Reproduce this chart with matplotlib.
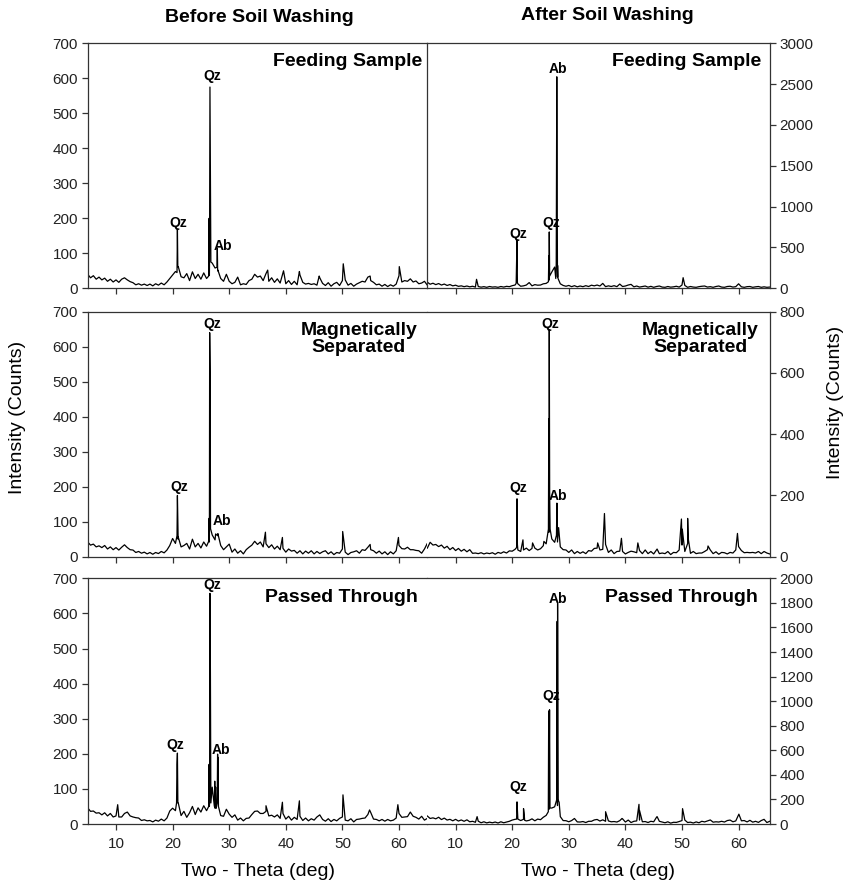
import numpy as np
import matplotlib
matplotlib.use('Agg')
import matplotlib.pyplot as plt

plt.rcParams['font.family'] = ['Liberation Sans', 'DejaVu Sans']

# background readings every 0.5 deg, 5.0 ... 65.5
two_theta = np.arange(5, 65.51, 0.5)

# --- Feeding sample, before washing
bg_feed_before = [40, 30, 36, 26, 32, 24, 29, 20, 26, 18, 24, 17, 26, 30, 24, 19, 16, 10, 13, 9,
                  12, 8, 12, 7, 13, 9, 15, 10, 18, 28, 38, 48, 62, 33, 30, 42, 22, 47, 28, 40,
                  26, 44, 28, 37, 72, 58, 52, 28, 20, 40, 20, 13, 17, 32, 10, 13, 11, 22, 26, 40,
                  32, 35, 22, 42, 20, 30, 17, 27, 15, 44, 13, 22, 11, 20, 10, 38, 17, 12, 14, 11,
                  13, 9, 30, 14, 8, 16, 6, 13, 17, 8, 22, 24, 9, 14, 6, 12, 16, 20, 18, 32,
                  22, 17, 10, 12, 6, 11, 5, 10, 6, 12, 36, 18, 22, 20, 27, 18, 21, 13, 15, 20,
                  9, 12]
pk_feed_before_x = [20.78, 20.85, 20.92, 26.38, 26.45, 26.52, 26.6, 26.68, 26.76,
                    27.84, 27.9, 27.96, 36.8, 39.6, 42.4, 45.9, 50.15, 54.9, 60.05]
pk_feed_before_y = [45, 168, 62, 35, 200, 70, 575, 340, 75,
                    60, 115, 50, 52, 50, 48, 35, 70, 35, 62]

# --- Feeding sample, after washing
bg_feed_after = [75, 50, 62, 45, 58, 40, 52, 35, 46, 30, 38, 24, 30, 20, 28, 18, 25, 15, 22, 14,
                 20, 12, 22, 15, 18, 12, 22, 15, 24, 20, 32, 40, 55, 25, 30, 40, 70, 30, 45, 38,
                 40, 55, 60, 100, 200, 260, 140, 55, 35, 25, 35, 20, 32, 18, 28, 20, 32, 22, 38, 30,
                 40, 28, 60, 20, 30, 22, 32, 20, 52, 22, 28, 40, 48, 18, 28, 15, 22, 28, 14, 24,
                 12, 22, 28, 15, 12, 22, 14, 18, 25, 15, 40, 35, 12, 22, 15, 12, 20, 25, 28, 15,
                 20, 12, 22, 28, 15, 12, 22, 25, 15, 20, 55, 18, 12, 20, 22, 12, 18, 22, 12, 18,
                 12, 15]
pk_feed_after_x = [13.7, 20.7, 20.78, 20.85, 20.92, 26.4, 26.47, 26.55, 26.62,
                   27.7, 27.78, 27.88, 27.95, 28.02, 28.1, 50.2]
pk_feed_after_y = [110, 60, 330, 590, 70, 80, 400, 690, 150,
                   120, 300, 2590, 1220, 280, 120, 130]

# --- Magnetically separated, before washing
bg_mag_before = [42, 33, 36, 28, 31, 26, 32, 22, 28, 20, 26, 19, 27, 34, 26, 20, 19, 12, 15, 10,
                 13, 8, 12, 7, 12, 9, 15, 11, 19, 32, 52, 38, 56, 28, 32, 38, 22, 50, 28, 38,
                 25, 42, 30, 42, 62, 48, 66, 32, 20, 28, 36, 13, 22, 10, 17, 8, 20, 27, 33, 44,
                 35, 42, 28, 37, 26, 34, 22, 30, 20, 24, 13, 22, 16, 18, 10, 17, 8, 16, 10, 17,
                 8, 15, 9, 14, 17, 8, 14, 6, 12, 10, 22, 13, 6, 12, 14, 17, 10, 20, 18, 27,
                 20, 17, 10, 16, 8, 14, 6, 14, 8, 17, 32, 23, 22, 27, 20, 20, 18, 17, 10, 22,
                 38, 42]
pk_mag_before_x = [20.78, 20.85, 20.92, 20.98, 26.4, 26.47, 26.55, 26.63, 26.7,
                   27.6, 27.95, 36.4, 39.4, 50.05, 54.9, 59.9]
pk_mag_before_y = [60, 175, 100, 50, 45, 110, 640, 530, 80,
                   65, 60, 70, 55, 72, 35, 55]

# --- Magnetically separated, after washing
bg_mag_after = [28, 47, 38, 40, 33, 38, 28, 34, 23, 30, 20, 27, 18, 24, 16, 23, 11, 12, 10, 13,
                9, 12, 10, 13, 8, 14, 11, 16, 12, 19, 18, 24, 22, 17, 22, 28, 20, 27, 28, 22,
                26, 36, 42, 80, 58, 47, 48, 32, 23, 22, 14, 22, 10, 17, 11, 16, 10, 20, 18, 27,
                28, 22, 24, 40, 14, 22, 10, 17, 18, 17, 9, 14, 18, 16, 13, 20, 10, 22, 10, 17,
                9, 22, 10, 12, 10, 17, 7, 14, 13, 22, 38, 17, 43, 11, 17, 10, 12, 12, 17, 23,
                22, 10, 16, 8, 14, 13, 9, 14, 12, 22, 33, 20, 13, 14, 13, 14, 12, 17, 10, 17,
                12, 9]
pk_mag_after_x = [20.78, 20.85, 20.92, 21.9, 23.6, 25.6, 26.4, 26.47, 26.55, 26.62, 26.7,
                  27.82, 27.9, 27.98, 28.2, 35.1, 36.3, 39.3, 42.2, 45.6,
                  49.9, 50.05, 51.0, 51.1, 54.6, 59.8]
pk_mag_after_y = [30, 189, 40, 55, 45, 50, 90, 450, 741, 200, 90,
                  70, 175, 60, 95, 45, 141, 60, 45, 25,
                  123, 90, 125, 60, 35, 76]

# --- Passed through, before washing
bg_pass_before = [46, 36, 37, 31, 32, 26, 32, 23, 30, 20, 23, 20, 20, 30, 34, 23, 20, 18, 17, 10,
                  12, 9, 10, 6, 11, 8, 14, 9, 17, 37, 45, 38, 60, 24, 36, 19, 32, 50, 27, 46,
                  34, 52, 38, 50, 105, 45, 62, 24, 22, 42, 28, 19, 26, 11, 17, 9, 16, 17, 27, 36,
                  37, 30, 30, 36, 23, 25, 20, 26, 16, 30, 14, 22, 11, 19, 13, 22, 10, 17, 9, 15,
                  11, 20, 26, 13, 8, 15, 7, 13, 9, 16, 20, 11, 9, 15, 6, 13, 14, 16, 17, 27,
                  33, 14, 13, 9, 13, 8, 13, 9, 11, 17, 30, 19, 20, 21, 34, 22, 19, 14, 22, 11,
                  16, 14]
pk_pass_before_x = [10.3, 20.7, 20.77, 20.85, 20.93, 26.38, 26.45, 26.53, 26.6, 26.68, 26.76,
                    27.38, 27.45, 27.52, 27.6, 27.7, 27.88, 27.95, 28.02, 28.1,
                    36.5, 39.4, 42.4, 50.1, 54.8, 59.8]
pk_pass_before_y = [55, 60, 170, 202, 60, 50, 170, 60, 657, 430, 60,
                    50, 122, 80, 105, 45, 60, 199, 190, 50,
                    52, 62, 66, 83, 40, 55]

# --- Passed through, after washing
bg_pass_after = [65, 45, 50, 42, 55, 36, 48, 32, 38, 26, 38, 24, 33, 22, 34, 18, 22, 14, 23, 10,
                 18, 9, 15, 10, 16, 8, 18, 10, 16, 22, 32, 38, 55, 28, 38, 25, 30, 42, 26, 40,
                 35, 55, 70, 120, 130, 140, 150, 60, 28, 27, 18, 28, 45, 17, 16, 20, 12, 22, 22, 33,
                 37, 24, 34, 22, 25, 18, 20, 16, 27, 42, 16, 32, 12, 22, 25, 32, 18, 20, 12, 22,
                 18, 55, 22, 16, 10, 18, 7, 14, 13, 20, 28, 32, 12, 15, 8, 17, 10, 22, 17, 25,
                 33, 15, 18, 16, 22, 16, 28, 32, 18, 25, 75, 26, 28, 17, 30, 15, 22, 13, 28, 38,
                 12, 22]
pk_pass_after_x = [13.8, 20.78, 20.85, 20.92, 21.0, 22.0, 22.1, 22.2,
                   26.38, 26.45, 26.52, 26.6, 26.68, 27.88, 27.95, 28.02, 28.1, 28.3,
                   36.5, 39.4, 42.4, 42.5, 45.6, 50.1, 60.05]
pk_pass_after_y = [60, 40, 180, 120, 40, 125, 90, 30,
                   100, 920, 300, 930, 130, 200, 1650, 1800, 200, 175,
                   100, 45, 160, 110, 60, 125, 80]


def pattern(bg, pkx, pky):
    x = np.concatenate([two_theta, pkx])
    y = np.concatenate([bg, pky])
    order = np.argsort(x, kind='stable')
    return x[order], y[order]


W, H = 849, 885
fig = plt.figure(figsize=(W / 100, H / 100), dpi=100)


def box(x0, y0, x1, y1):
    return [x0 / W, 1 - y1 / H, (x1 - x0) / W, (y1 - y0) / H]


def ftext(x, y, s, **kw):
    fig.text(x / W, 1 - y / H, s, **kw)


rows = [(43.3, 288.3), (311.7, 556.7), (578.3, 824.0)]
right_lims = [(3000, 500), (800, 200), (2000, 200)]
data = [
    (pattern(bg_feed_before, pk_feed_before_x, pk_feed_before_y),
     pattern(bg_feed_after, pk_feed_after_x, pk_feed_after_y)),
    (pattern(bg_mag_before, pk_mag_before_x, pk_mag_before_y),
     pattern(bg_mag_after, pk_mag_after_x, pk_mag_after_y)),
    (pattern(bg_pass_before, pk_pass_before_x, pk_pass_before_y),
     pattern(bg_pass_after, pk_pass_after_x, pk_pass_after_y)),
]

frame = '#333333'
for i, (top, bot) in enumerate(rows):
    axl = fig.add_axes(box(87.7, top, 427.3, bot))
    axr = fig.add_axes(box(427.3, top, 770.0, bot))
    (xl, yl), (xr, yr) = data[i]
    axl.plot(xl, yl, color='black', lw=0.9)
    axr.plot(xr, yr, color='black', lw=0.9)

    axl.set_xlim(5, 65)
    axl.set_ylim(0, 700)
    axl.set_yticks(np.arange(0, 701, 100))
    axr.set_xlim(5, 65.55)
    ymax, step = right_lims[i]
    axr.set_ylim(0, ymax)
    axr.set_yticks(np.arange(0, ymax + 1, step))
    axr.yaxis.tick_right()

    for ax in (axl, axr):
        ax.set_xticks(np.arange(10, 61, 10))
        ax.tick_params(direction='out', length=4, width=0.9, color=frame,
                       labelsize=11, labelcolor='#222222', pad=3)
        ax.tick_params(axis='x', pad=5)
        for sp in ax.spines.values():
            sp.set_color(frame)
            sp.set_linewidth(0.9)
        if i < 2:
            ax.set_xticklabels([])
    axl.spines['right'].set_visible(False)
    if i > 0:
        axr.spines['left'].set_visible(False)
    axr.tick_params(axis='y', left=False)

bold = dict(fontsize=14, fontweight='bold', color='black')
small = dict(fontsize=10, fontweight='bold', color='black', ha='center', va='center')

ftext(259, 17, 'Before Soil Washing', ha='center', va='center', **bold)
ftext(607, 15, 'After Soil Washing', ha='center', va='center', **bold)

ftext(422, 61, 'Feeding Sample', ha='right', va='center', **bold)
ftext(761, 61, 'Feeding Sample', ha='right', va='center', **bold)
ftext(359, 339, 'Magnetically\nSeparated', ha='center', va='center', linespacing=1.0, **bold)
ftext(700, 339, 'Magnetically\nSeparated', ha='center', va='center', linespacing=1.0, **bold)
ftext(418, 597, 'Passed Through', ha='right', va='center', **bold)
ftext(758, 597, 'Passed Through', ha='right', va='center', **bold)

# peak labels
peak_labels = [
    (212, 76, 'Qz'), (178, 223, 'Qz'), (223, 246, 'Ab'),
    (558, 69, 'Ab'), (518, 234, 'Qz'), (551, 223, 'Qz'),
    (212, 324, 'Qz'), (179, 487, 'Qz'), (222, 521, 'Ab'),
    (550, 324, 'Qz'), (518, 488, 'Qz'), (558, 496, 'Ab'),
    (212, 585, 'Qz'), (175, 745, 'Qz'), (221, 750, 'Ab'),
    (558, 599, 'Ab'), (551, 696, 'Qz'), (518, 787, 'Qz'),
]
for x, y, s in peak_labels:
    ftext(x, y, s, **small)

ftext(18, 417, 'Intensity (Counts)', rotation=90, ha='center', va='center', fontsize=14)
ftext(835, 402, 'Intensity (Counts)', rotation=90, ha='center', va='center', fontsize=14)
ftext(258, 871, 'Two - Theta (deg)', ha='center', va='center', fontsize=14)
ftext(598, 871, 'Two - Theta (deg)', ha='center', va='center', fontsize=14)

fig.savefig('out.png', dpi=100)
